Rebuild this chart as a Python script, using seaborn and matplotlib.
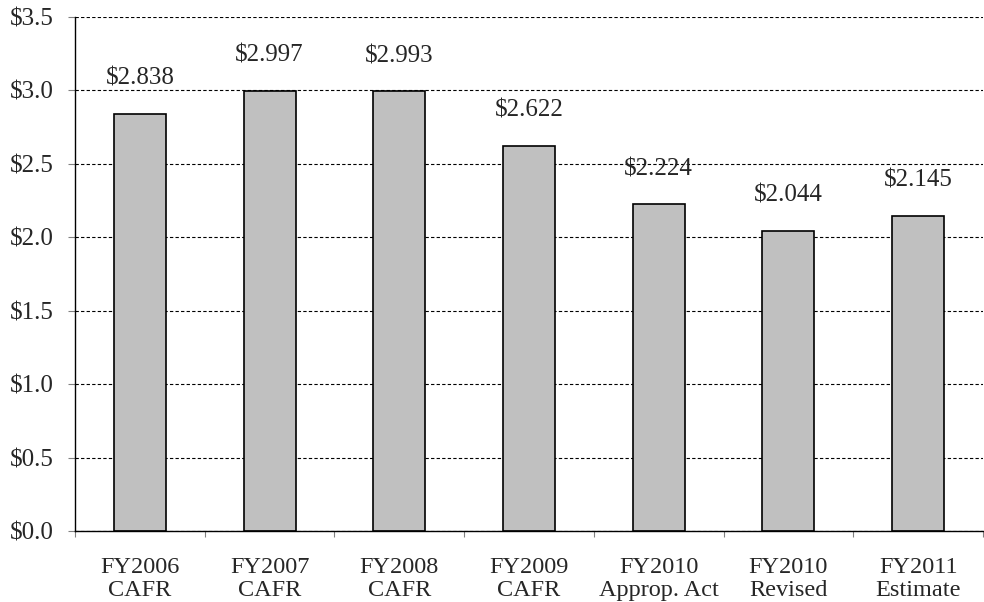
import matplotlib
matplotlib.use("Agg")
import matplotlib.pyplot as plt
import seaborn as sns
import pandas as pd
from matplotlib.ticker import FixedLocator

categories = ["FY2006\nCAFR", "FY2007\nCAFR", "FY2008\nCAFR", "FY2009\nCAFR",
              "FY2010\nApprop. Act", "FY2010\nRevised", "FY2011\nEstimate"]
values = [2.838, 2.997, 2.993, 2.622, 2.224, 2.044, 2.145]
yticks = [0.0, 0.5, 1.0, 1.5, 2.0, 2.5, 3.0, 3.5]

sns.set_style("white")
plt.rcParams['font.family'] = ['Liberation Serif', 'DejaVu Serif']

df = pd.DataFrame({"cat": categories, "val": values})

fig = plt.figure(figsize=(9.84, 6.02), dpi=100)
ax = fig.add_axes([75/984, 1-531/602, (983-75)/984, (531-17)/602])

sns.barplot(data=df, x="cat", y="val", ax=ax, color="#C0C0C0", width=0.4,
            edgecolor="black", linewidth=1.2, saturation=1)

ax.set_ylim(0, 3.5)
ax.set_xlim(-0.5, len(categories) - 0.5)
ax.set_yticks(yticks)
ax.set_yticklabels([f"${v:.1f}" for v in yticks], fontsize=18)
ax.set_xticks(range(len(categories)))
ax.set_xticklabels(categories, fontsize=17.5, linespacing=1.14)
ax.tick_params(axis='x', which='major', length=0, pad=18.5)
ax.xaxis.set_minor_locator(FixedLocator([i + 0.5 for i in range(-1, len(categories))]))
ax.tick_params(axis='x', which='minor', length=4.5, width=0.8, color='#808080', direction='out', bottom=True)
ax.tick_params(axis='y', length=5, width=0.8, color='#808080', direction='out', left=True, pad=10)

ax.set_axisbelow(True)
ax.yaxis.grid(True, color='black', linestyle=(0, (3, 2)), linewidth=0.8)
ax.xaxis.grid(False)

for s in ['top', 'right']:
    ax.spines[s].set_visible(False)
for s in ['left', 'bottom']:
    ax.spines[s].set_color('black')
    ax.spines[s].set_linewidth(1.0)

ax.set_xlabel("")
ax.set_ylabel("")

for i, v in enumerate(values):
    ax.text(i, v + 0.2, f"${v:.3f}", ha='center', va='baseline', fontsize=18)

fig.savefig("out.png", dpi=100)
